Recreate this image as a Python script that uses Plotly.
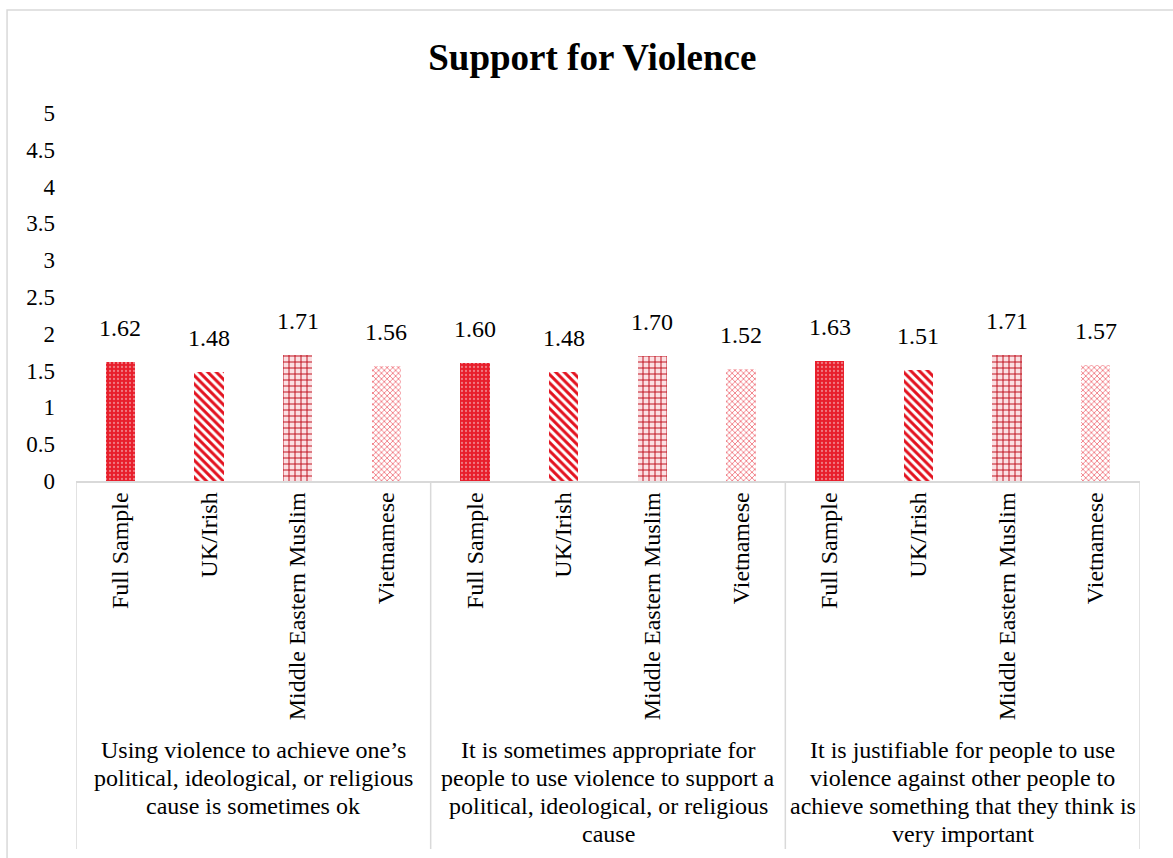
import plotly.graph_objects as go

# Survey items (group labels, one entry per wrapped line)
items = [
    ["Using violence to achieve one’s", "political, ideological, or religious",
     "cause is sometimes ok"],
    ["It is sometimes appropriate for", "people to use violence to support a",
     "political, ideological, or religious", "cause"],
    ["It is justifiable for people to use", "violence against other people to",
     "achieve something that they think is", "very important"],
]
samples = ["Full Sample", "UK/Irish", "Middle Eastern Muslim", "Vietnamese"]

# Mean support per sample, one list per survey item
item1 = [1.62, 1.48, 1.71, 1.56]
item2 = [1.60, 1.48, 1.70, 1.52]
item3 = [1.63, 1.51, 1.71, 1.57]

y_ticks = [0, 0.5, 1, 1.5, 2, 2.5, 3, 3.5, 4, 4.5, 5]
y_tick_text = ["0", "0.5", "1", "1.5", "2", "2.5", "3", "3.5", "4", "4.5", "5"]

FONT = "Times New Roman, Liberation Serif, DejaVu Serif, serif"
GRID = "#d9d9d9"

# Fill pattern per sample
patterns = {
    "Full Sample": dict(shape=".", fgcolor="#f07a82", bgcolor="#e81e2b", size=4,
                        solidity=0.25, fgopacity=1),
    "UK/Irish": dict(shape="\\", fgcolor="#e3121f", bgcolor="white", size=6,
                     solidity=0.5, fgopacity=1),
    "Middle Eastern Muslim": dict(shape="+", fgcolor="#c0101c", bgcolor="#fbe0e3", size=6,
                                  solidity=0.3, fgopacity=1),
    "Vietnamese": dict(shape="x", fgcolor="#ee6670", bgcolor="white", size=4,
                       solidity=0.35, fgopacity=1),
}

all_values = [item1, item2, item3]
n_s = len(samples)

fig = go.Figure()
for si, s in enumerate(samples):
    xs = [gi * n_s + si for gi in range(len(items))]
    ys = [all_values[gi][si] for gi in range(len(items))]
    fig.add_trace(go.Bar(
        x=xs, y=ys, width=0.33, name=s,
        marker=dict(color=patterns[s]["bgcolor"], line=dict(width=0),
                    pattern=patterns[s]),
        hovertemplate="%{y:.2f}<extra>" + s + "</extra>",
    ))
    for x, y in zip(xs, ys):
        fig.add_annotation(x=x, y=y, xref="x", yref="y", text=f"{y:.2f}",
                           showarrow=False, yanchor="middle", yshift=34,
                           font=dict(family=FONT, size=24, color="#000"))

# Group labels under the rotated sample names, one line at a time
LINE_H = 28
for gi, lines in enumerate(items):
    for li, line in enumerate(lines):
        fig.add_annotation(x=gi * n_s + (n_s - 1) / 2, y=0, xref="x", yref="y",
                           text=line, showarrow=False, yanchor="middle",
                           yshift=-(750 - 481) - li * LINE_H,
                           font=dict(family=FONT, size=24, color="#000"))

# Group separators below the axis
for xb in [-0.5, 3.5, 7.5, 11.5]:
    fig.add_shape(type="line", xref="x", yref="paper", x0=xb, x1=xb,
                  y0=0, y1=-1.0, line=dict(color=GRID, width=1.5))

# Chart border
fig.add_shape(type="rect", xref="paper", yref="paper",
              x0=-0.0648, x1=1.2, y0=-1.2, y1=1.2799,
              line=dict(color=GRID, width=1.5), fillcolor="rgba(0,0,0,0)")

tickvals = list(range(len(items) * n_s))
ticktext = samples * len(items)

fig.update_layout(
    width=1173, height=858,
    margin=dict(l=76, r=33, t=113, b=377),
    paper_bgcolor="white", plot_bgcolor="white",
    showlegend=False, bargap=0,
    title=dict(text="<b>Support for Violence</b>", x=0.505, xref="container",
               y=1 - 57 / 858, yref="container", yanchor="middle", xanchor="center",
               font=dict(family=FONT, size=37, color="#000")),
    xaxis=dict(range=[-0.5, 11.5], tickvals=tickvals, ticktext=ticktext,
               tickangle=-90, showgrid=False, zeroline=False,
               showline=True, linecolor=GRID, linewidth=1.5, ticks="",
               ticklabelstandoff=0,
               tickfont=dict(family=FONT, size=24, color="#000")),
    yaxis=dict(range=[0, 5], tickvals=y_ticks, ticktext=y_tick_text,
               showgrid=False, zeroline=False, showline=False, ticks="",
               ticklabelstandoff=20,
               tickfont=dict(family=FONT, size=23, color="#000")),
)

fig.write_html("out.html")
